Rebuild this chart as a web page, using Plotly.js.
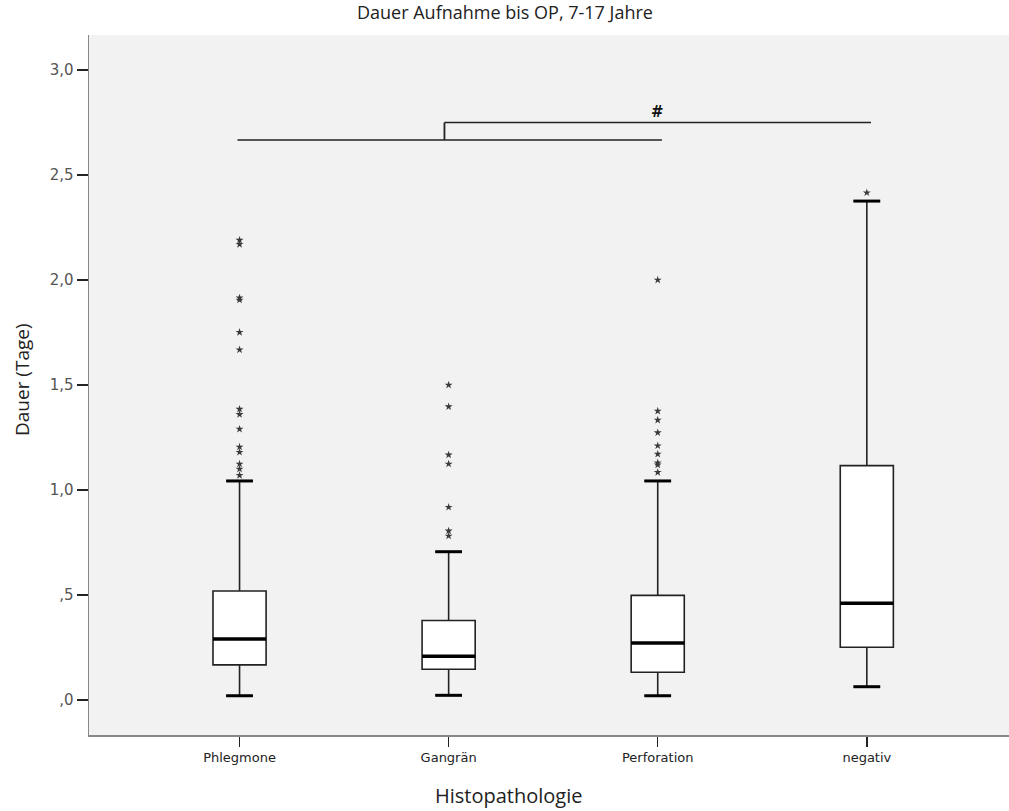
<!DOCTYPE html>
<html>
<head>
<meta charset="utf-8">
<script src="https://cdn.plot.ly/plotly-3.0.1.min.js"></script>
<style>html,body{margin:0;padding:0;background:#fff;}#chart{width:1009px;height:811px;}</style>
</head>
<body>
<div id="chart"></div>
<script>
// ---- data ----
const categories = ["Phlegmone", "Gangrän", "Perforation", "negativ"];
const lowerWhisker = [0.02, 0.022, 0.02, 0.063];
const q1 = [0.167, 0.146, 0.132, 0.251];
const median = [0.290, 0.208, 0.271, 0.460];
const q3 = [0.519, 0.378, 0.498, 1.116];
const upperWhisker = [1.043, 0.706, 1.043, 2.376];

const outliersPhlegmone = [2.19, 2.17, 1.915, 1.905, 1.751, 1.668, 1.385, 1.36, 1.29, 1.205, 1.18, 1.124, 1.10, 1.07];
const outliersGangraen = [1.50, 1.397, 1.167, 1.124, 0.918, 0.805, 0.781];
const outliersPerforation = [2.00, 1.376, 1.333, 1.273, 1.211, 1.171, 1.13, 1.12, 1.084];
const outliersNegativ = [2.416];

const yTickValues = [0, 0.5, 1.0, 1.5, 2.0, 2.5, 3.0];
const yTickLabels = [",0", ",5", "1,0", "1,5", "2,0", "2,5", "3,0"];

const chartTitle = "Dauer Aufnahme bis OP, 7-17 Jahre";
const xTitle = "Histopathologie";
const yTitle = "Dauer (Tage)";

// bracket (significance) levels
const bracketLow = 2.667;
const bracketHigh = 2.75;
const bracketMark = "#";

// ---- traces ----
const boxWidth = 0.254;
const capHalf = 0.064;
const outlierSets = [outliersPhlegmone, outliersGangraen, outliersPerforation, outliersNegativ];

const boxTrace = {
  type: "box",
  x: categories,
  q1: q1, median: median, q3: q3,
  lowerfence: lowerWhisker, upperfence: upperWhisker,
  width: boxWidth,
  whiskerwidth: 0.5,
  boxpoints: false,
  fillcolor: "#ffffff",
  line: {color: "#222222", width: 1.6},
  hoverinfo: "y",
  showlegend: false
};

const outX = [], outY = [];
outlierSets.forEach((arr, i) => arr.forEach(v => { outX.push(categories[i]); outY.push(v); }));
const outlierTrace = {
  type: "scatter", mode: "markers",
  x: outX, y: outY,
  marker: {symbol: "star", size: 6, color: "#3a3a3a", line: {width: 0}},
  showlegend: false, hoverinfo: "y"
};

// ---- shapes: thick medians & caps (derived from arrays), brackets ----
const shapes = [];
categories.forEach((c, i) => {
  shapes.push({type: "line", xref: "x", yref: "y", x0: i - boxWidth/2, x1: i + boxWidth/2, y0: median[i], y1: median[i], line: {color: "#000", width: 3.5}});
  shapes.push({type: "line", xref: "x", yref: "y", x0: i - capHalf, x1: i + capHalf, y0: upperWhisker[i], y1: upperWhisker[i], line: {color: "#000", width: 3}});
  shapes.push({type: "line", xref: "x", yref: "y", x0: i - capHalf, x1: i + capHalf, y0: lowerWhisker[i], y1: lowerWhisker[i], line: {color: "#000", width: 3}});
});
shapes.push({type: "line", xref: "x", yref: "y", x0: -0.01, x1: 2.02, y0: bracketLow, y1: bracketLow, line: {color: "#222", width: 1.5}});
shapes.push({type: "line", xref: "x", yref: "y", x0: 0.98, x1: 0.98, y0: bracketLow, y1: bracketHigh, line: {color: "#222", width: 1.8}});
shapes.push({type: "line", xref: "x", yref: "y", x0: 0.98, x1: 3.02, y0: bracketHigh, y1: bracketHigh, line: {color: "#222", width: 1.5}});

const textFont = "Open Sans, Noto Sans, sans-serif";

const layout = {
  width: 1009, height: 811,
  margin: {l: 89, r: 0, t: 35, b: 76},
  paper_bgcolor: "#ffffff",
  plot_bgcolor: "#f2f2f2",
  xaxis: {
    type: "category",
    range: [-0.72, 3.68],
    showgrid: false, zeroline: false,
    showline: true, linecolor: "#888", linewidth: 1.5,
    ticks: "outside", ticklen: 10, tickwidth: 1.5, tickcolor: "#222",
    tickfont: {family: "DejaVu Sans, Verdana, sans-serif", size: 13, color: "#222"}
  },
  yaxis: {
    range: [-0.167, 3.167],
    tickvals: yTickValues, ticktext: yTickLabels,
    showgrid: false, zeroline: false,
    showline: true, linecolor: "#888", linewidth: 1.5,
    ticks: "outside", ticklen: 11, tickwidth: 1.5, tickcolor: "#222",
    tickfont: {family: "DejaVu Sans, Verdana, sans-serif", size: 15, color: "#555"}
  },
  shapes: shapes,
  annotations: [
    {xref: "x", yref: "y", x: 2, y: bracketHigh, yanchor: "bottom",
     text: "<b>" + bracketMark + "</b>", showarrow: false,
     font: {family: "DejaVu Sans, sans-serif", size: 15, color: "#111"}},
    {xref: "paper", yref: "paper", x: (505 - 89) / 920, xanchor: "center", y: 1, yshift: 23, yanchor: "middle",
     text: chartTitle, showarrow: false, font: {family: textFont, size: 18, color: "#222"}},
    {xref: "paper", yref: "paper", x: (508 - 89) / 920, xanchor: "center", y: 0, yshift: -60, yanchor: "middle",
     text: xTitle, showarrow: false, font: {family: textFont, size: 20, color: "#222"}},
    {xref: "paper", yref: "paper", x: 0, xshift: -67, xanchor: "center", y: (735 - 380) / 700, yanchor: "middle",
     text: yTitle, textangle: -90, showarrow: false, font: {family: textFont, size: 19, color: "#222"}}
  ]
};

Plotly.newPlot("chart", [boxTrace, outlierTrace], layout, {staticPlot: true, displayModeBar: false});
</script>
</body>
</html>
